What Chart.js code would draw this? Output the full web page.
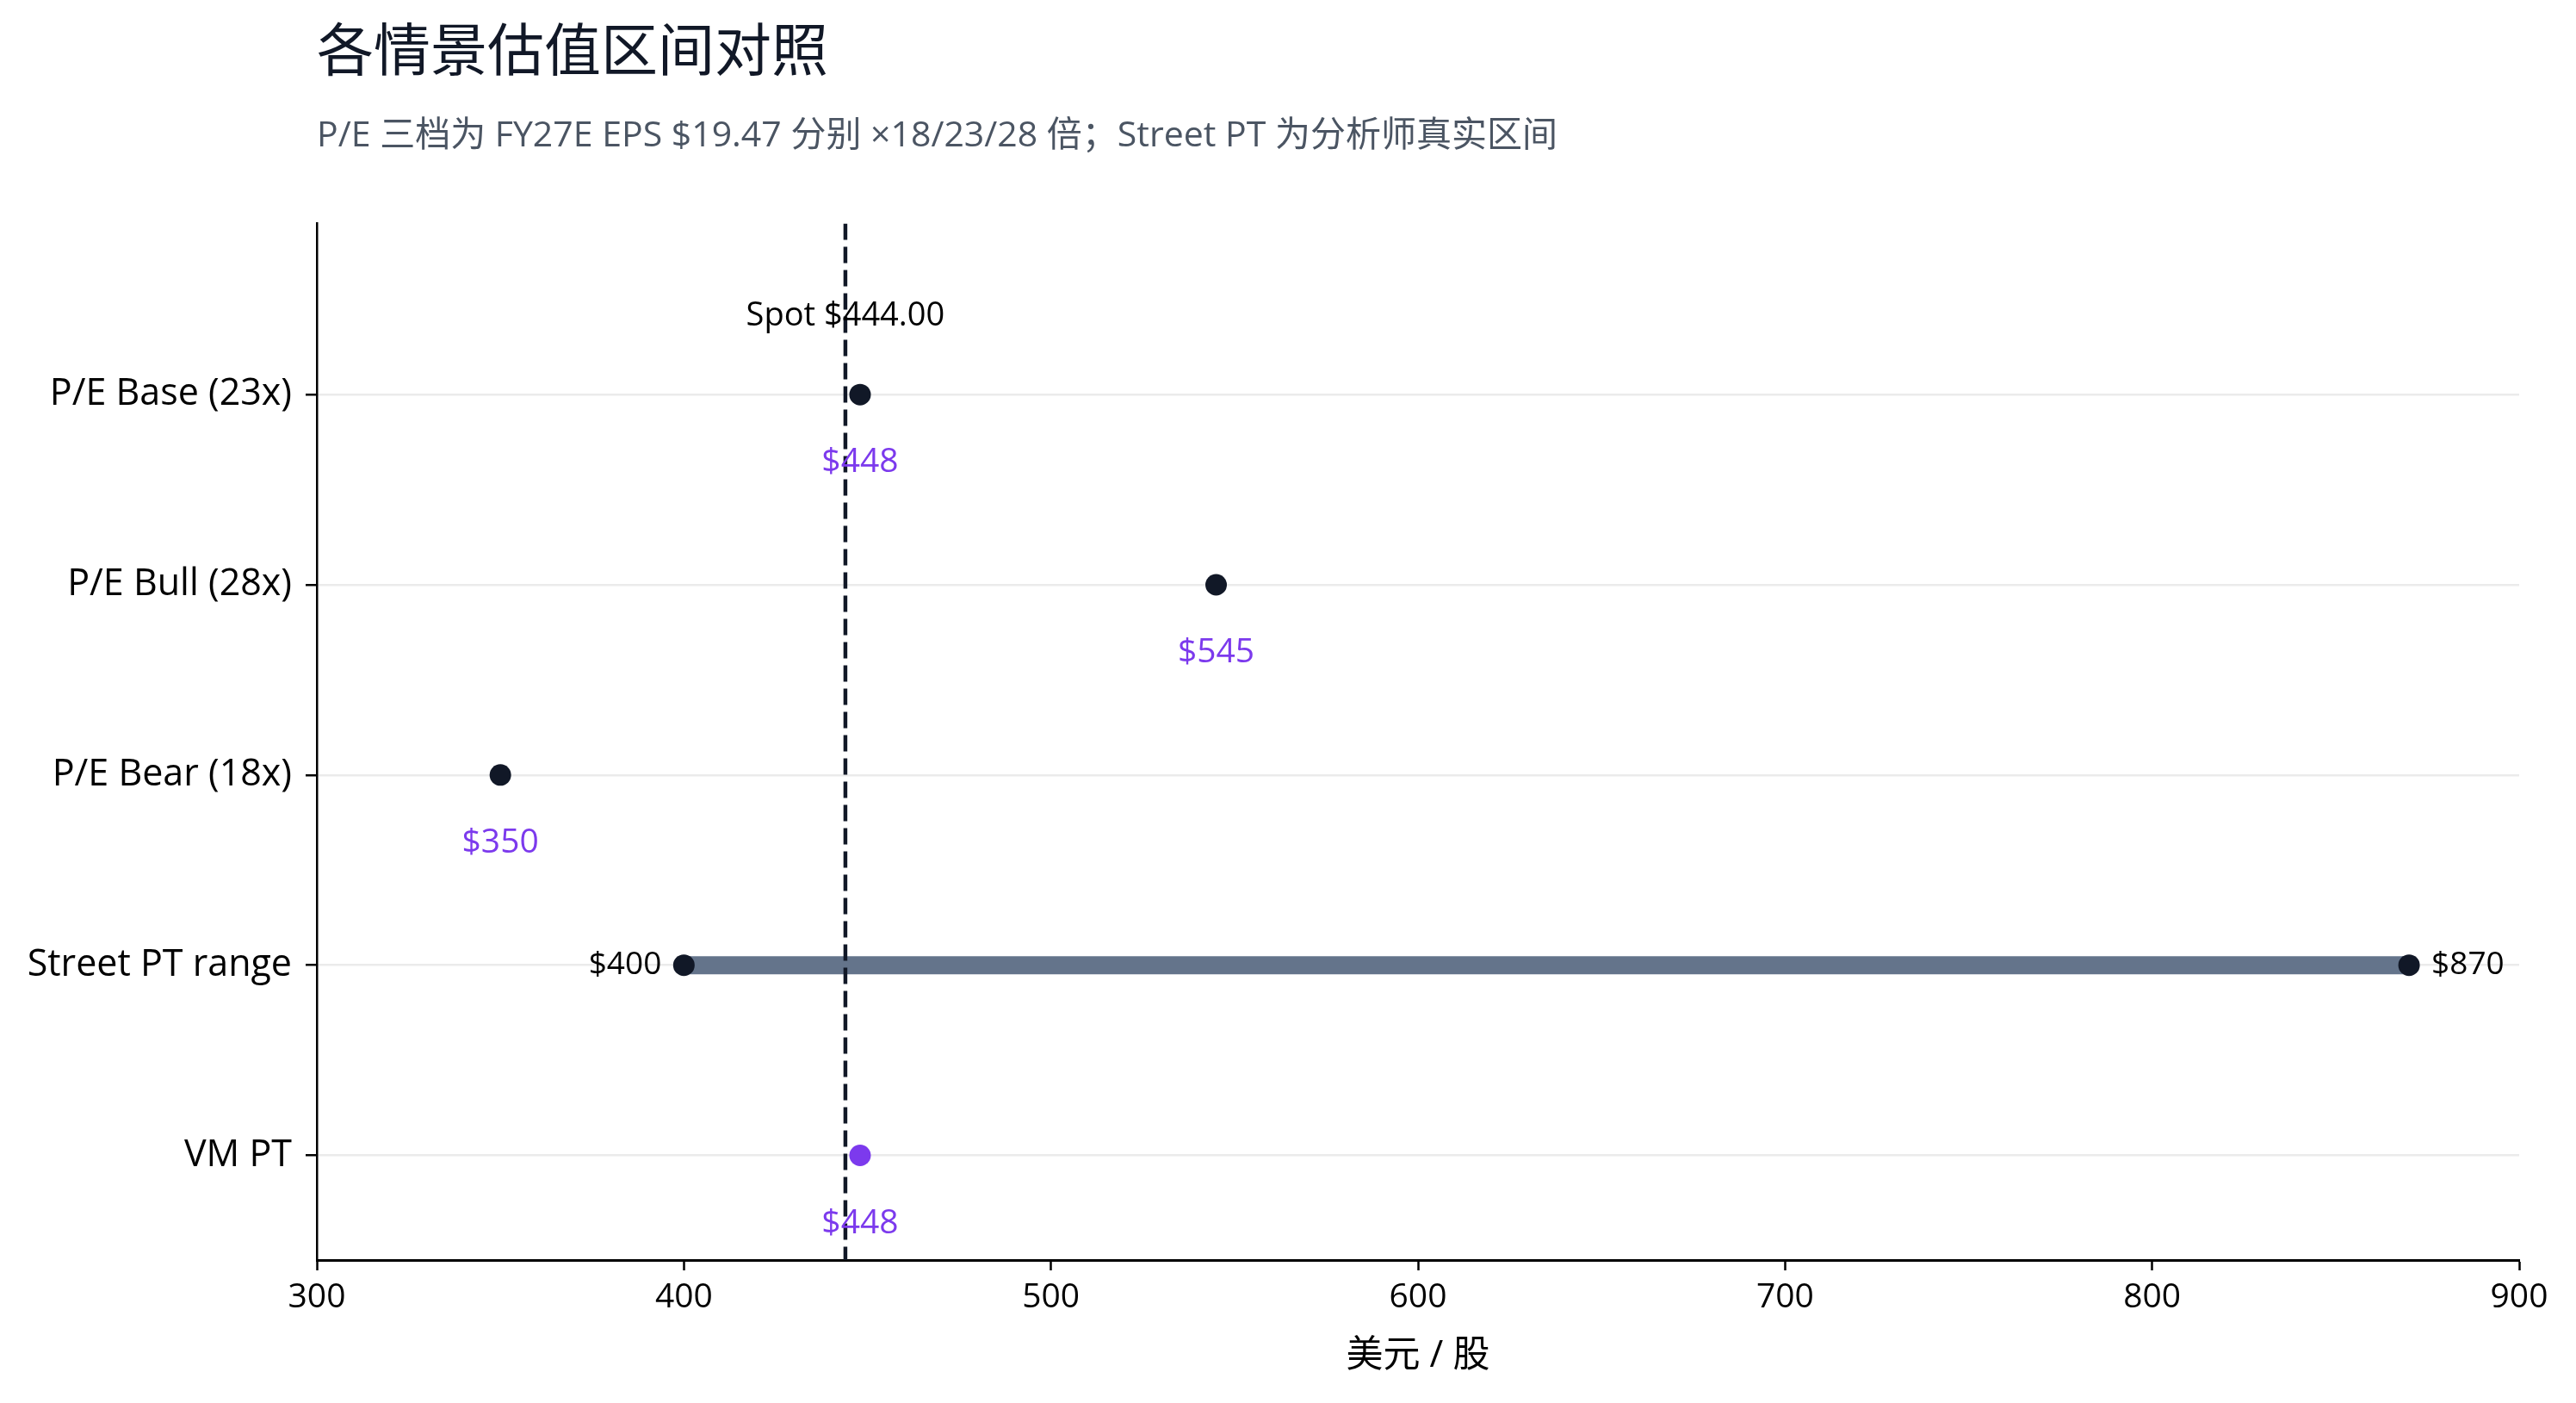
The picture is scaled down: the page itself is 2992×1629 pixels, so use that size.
<!DOCTYPE html>
<html>
<head>
<meta charset="utf-8">
<script src="https://cdn.jsdelivr.net/npm/chart.js"></script>
<style>
  html, body { margin: 0; padding: 0; background: #fff; }
</style>
</head>
<body>
<canvas id="valuation_chart" width="2992" height="1629"></canvas>
<script>
// categories, top to bottom
var categories = ['P/E Base (23x)', 'P/E Bull (28x)', 'P/E Bear (18x)', 'Street PT range', 'VM PT'];
// P/E scenarios: FY27E EPS $19.47 x 23 / 28 / 18
var peValues = [448, 545, 350];
// analyst street price target range
var streetRange = [400, 870];
var vmPt = [448];
var spotPrice = 444.00;
var xTicks = [300, 400, 500, 600, 700, 800, 900];

var FONT = "'Open Sans', 'Noto Sans CJK SC', sans-serif";
var DARK = '#111827';
var PURPLE = '#7c3aed';
var SLATE = '#64748b';

var Y_MIN = -0.9, Y_MAX = 4.55;

// text labels next to the markers
var labelPlugin = {
    id: 'labels',
    afterDatasetsDraw: function (chart) {
        var ctx = chart.ctx;
        var xs = chart.scales.x, ys = chart.scales.y;
        ctx.save();
        ctx.font = '39px ' + FONT;
        ctx.textBaseline = 'middle';
        ctx.textAlign = 'center';
        ctx.fillStyle = PURPLE;
        for (var i = 0; i < peValues.length; i++) {
            ctx.fillText('$' + peValues[i], xs.getPixelForValue(peValues[i]), ys.getPixelForValue(i) + 79);
        }
        ctx.fillText('$' + vmPt[0], xs.getPixelForValue(vmPt[0]), ys.getPixelForValue(4) + 79);

        ctx.fillStyle = '#000';
        ctx.font = '37px ' + FONT;
        ctx.textAlign = 'right';
        ctx.fillText('$' + streetRange[0], xs.getPixelForValue(streetRange[0]) - 26, ys.getPixelForValue(3));
        ctx.textAlign = 'left';
        ctx.fillText('$' + streetRange[1], xs.getPixelForValue(streetRange[1]) + 26, ys.getPixelForValue(3));

        ctx.font = '38px ' + FONT;
        ctx.textAlign = 'center';
        ctx.fillText('Spot $' + spotPrice.toFixed(2), xs.getPixelForValue(spotPrice), ys.getPixelForValue(-0.41));
        ctx.restore();
    }
};

var pointData = peValues.map(function (v, i) { return { x: v, y: i }; });
pointData.push({ x: streetRange[0], y: 3 }, { x: streetRange[1], y: 3 });

var chartdata = {
    datasets: [
        {
            type: 'scatter',
            data: vmPt.map(function (v) { return { x: v, y: 4 }; }),
            backgroundColor: PURPLE,
            borderWidth: 0,
            pointRadius: 12.5,
            order: 1
        },
        {
            type: 'scatter',
            data: pointData,
            backgroundColor: DARK,
            borderWidth: 0,
            pointRadius: 12.5,
            order: 2
        },
        {
            type: 'line',
            data: [{ x: spotPrice, y: Y_MIN }, { x: spotPrice, y: Y_MAX }],
            borderColor: DARK,
            borderWidth: 4.5,
            borderDash: [19, 8],
            pointRadius: 0,
            order: 3
        },
        {
            type: 'line',
            data: [{ x: streetRange[0], y: 3 }, { x: streetRange[1], y: 3 }],
            borderColor: SLATE,
            borderWidth: 21,
            borderCapStyle: 'butt',
            pointRadius: 0,
            order: 4
        }
    ]
};

Chart.defaults.font.family = FONT;
Chart.defaults.color = '#000';

var ctx = document.getElementById('valuation_chart');
var chart = new Chart(ctx, {
    type: 'scatter',
    data: chartdata,
    plugins: [labelPlugin],
    options: {
        responsive: false,
        animation: false,
        devicePixelRatio: 1,
        layout: { padding: { left: 0, right: 66, top: 0, bottom: 0 } },
        plugins: {
            legend: { display: false },
            tooltip: { enabled: false },
            title: {
                display: true,
                text: '各情景估值区间对照',
                align: 'start',
                fullSize: false,
                color: DARK,
                font: { size: 66, weight: 'normal' },
                padding: { top: 24, bottom: 14 }
            },
            subtitle: {
                display: true,
                text: 'P/E 三档为 FY27E EPS $19.47 分别 ×18/23/28 倍；Street PT 为分析师真实区间',
                align: 'start',
                fullSize: false,
                color: '#4b5563',
                font: { size: 41 },
                padding: { top: 17, bottom: 76 }
            }
        },
        scales: {
            x: {
                type: 'linear',
                min: 300,
                max: 900,
                afterBuildTicks: function (scale) {
                    scale.ticks = xTicks.map(function (v) { return { value: v }; });
                },
                afterFit: function (scale) { scale.height = 166; },
                ticks: { font: { size: 39 }, color: '#000', padding: 8 },
                grid: { drawOnChartArea: false, drawTicks: true, tickLength: 12, tickColor: '#000', tickWidth: 2.5 },
                border: { display: true, color: '#000', width: 3 },
                title: {
                    display: true,
                    text: '美元 / 股',
                    color: '#000',
                    font: { size: 43 },
                    padding: { top: 0, bottom: 28 }
                }
            },
            y: {
                type: 'linear',
                reverse: true,
                min: Y_MIN,
                max: Y_MAX,
                afterBuildTicks: function (scale) {
                    scale.ticks = categories.map(function (c, i) { return { value: i }; });
                },
                afterFit: function (scale) { scale.width = 368; },
                ticks: {
                    font: { size: 43 },
                    color: '#000',
                    padding: 16,
                    callback: function (v) { return categories[v]; }
                },
                grid: { color: '#ebebeb', lineWidth: 2.5, tickLength: 13, tickColor: '#000', tickWidth: 2.5 },
                border: { display: true, color: '#000', width: 2.5 }
            }
        }
    }
});
</script>
</body>
</html>
